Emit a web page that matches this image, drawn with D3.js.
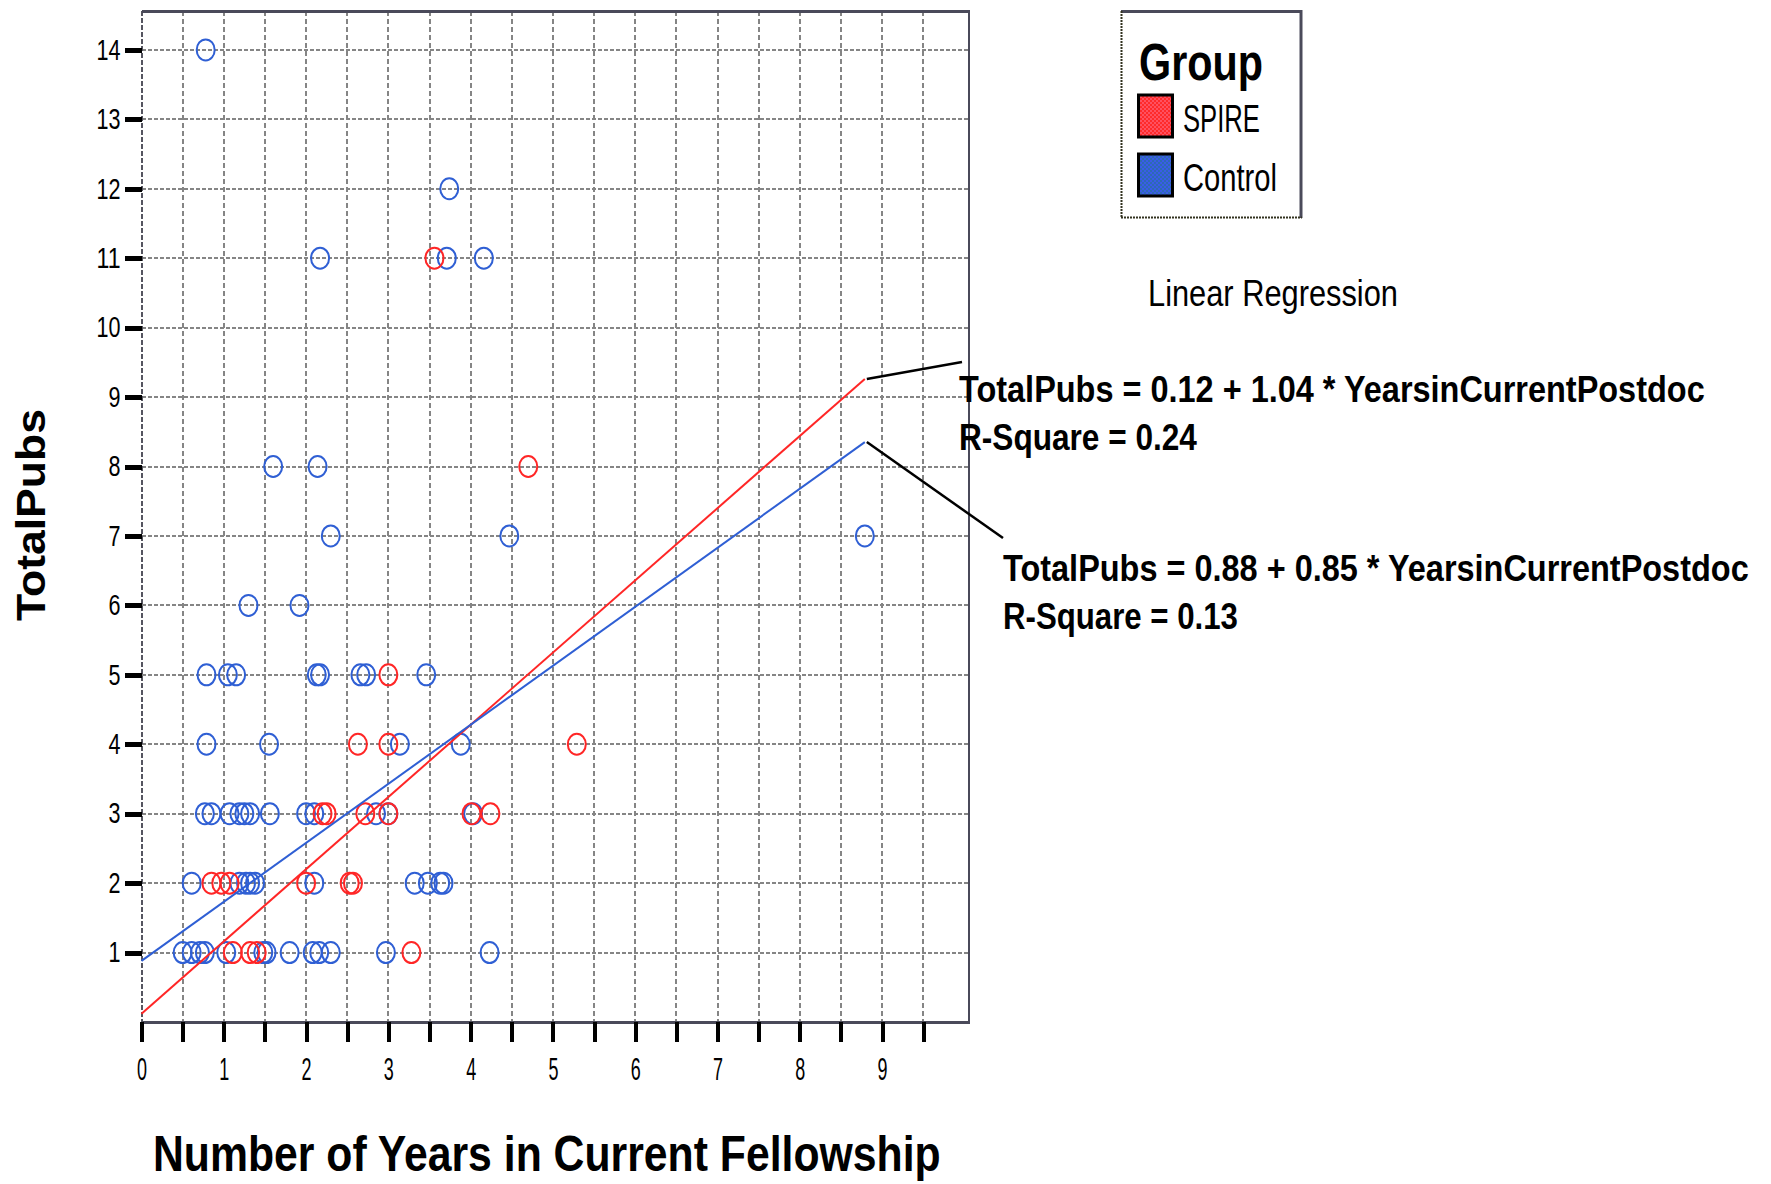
<!DOCTYPE html>
<html>
<head>
<meta charset="utf-8">
<script src="https://cdn.jsdelivr.net/npm/d3@7"></script>
<style>
  body { margin: 0; background: #fff; }
  svg { display: block; }
  text { font-family: "Liberation Sans", Arial, sans-serif; fill: #000; }
</style>
</head>
<body>
<svg width="1771" height="1184"></svg>
<script>
// values
var groups = ["SPIRE", "Control"];

var spireYears = [3.56, 4.70, 3.00, 2.63, 3.00, 5.29, 2.20, 2.25, 2.72, 3.00, 4.01, 4.24,
  0.85, 0.97, 1.07, 2.00, 2.53, 2.57, 1.11, 1.32, 1.40, 3.28];
var spirePubs = [11, 8, 5, 4, 4, 4, 3, 3, 3, 3, 3, 3,
  2, 2, 2, 2, 2, 2, 1, 1, 1, 1];

var controlYears = [0.78, 3.74, 2.17, 3.71, 4.16, 1.60, 2.14, 2.30, 4.47, 8.79,
  1.30, 1.92, 0.79, 1.05, 1.15, 2.13, 2.17, 2.66, 2.73, 3.46,
  0.79, 1.55, 3.14, 3.88,
  0.77, 0.85, 1.07, 1.19, 1.25, 1.32, 1.56, 2.00, 2.10, 2.85, 3.00, 4.03,
  0.61, 1.19, 1.27, 1.32, 1.38, 2.10, 3.32, 3.48, 3.63, 3.67,
  0.50, 0.61, 0.71, 0.77, 1.03, 1.48, 1.52, 1.80, 2.08, 2.16, 2.30, 2.97, 4.23];
var controlPubs = [14, 12, 11, 11, 11, 8, 8, 7, 7, 7,
  6, 6, 5, 5, 5, 5, 5, 5, 5, 5,
  4, 4, 4, 4,
  3, 3, 3, 3, 3, 3, 3, 3, 3, 3, 3, 3,
  2, 2, 2, 2, 2, 2, 2, 2, 2, 2,
  1, 1, 1, 1, 1, 1, 1, 1, 1, 1, 1, 1, 1];

var fitIntercept = [0.12, 0.88];
var fitSlope = [1.04, 0.85];
var fitRSquare = [0.24, 0.13];

var xTickLabels = [0, 1, 2, 3, 4, 5, 6, 7, 8, 9];
var yTickLabels = [1, 2, 3, 4, 5, 6, 7, 8, 9, 10, 11, 12, 13, 14];

var colors = ["#ff2626", "#2f5fd4"];

var svg = d3.select("svg");

var x = d3.scaleLinear().domain([0, 10.05]).range([141.5, 968.5]);
var y = d3.scaleLinear().domain([0, 14.56]).range([1022, 11]);

var halfSteps = d3.range(0, 9.51, 0.5);

// the source font is very narrow, so squeeze text to the width it had
function squeezed(parent, str, px, py, width, size, bold, extra) {
  var t = parent.append("text").attr("font-size", size)
    .attr("font-weight", bold ? "bold" : "normal").text(str);
  if (extra) t.attr("text-anchor", "middle");
  var w = t.node().getComputedTextLength();
  t.attr("transform", "translate(" + px + "," + py + ")" + (extra || "") +
    " scale(" + (width / w) + ",1)");
  return t;
}

// checker patterns for legend swatches
var defs = svg.append("defs");
[["pat0", "#ff2a2a", "#ff5060"], ["pat1", "#3a5ce8", "#2d6ab4"]].forEach(function (p) {
  var pat = defs.append("pattern").attr("id", p[0])
    .attr("width", 4).attr("height", 4).attr("patternUnits", "userSpaceOnUse");
  pat.append("rect").attr("width", 4).attr("height", 4).attr("fill", p[1]);
  pat.append("rect").attr("width", 2).attr("height", 2).attr("fill", p[2]);
  pat.append("rect").attr("x", 2).attr("y", 2).attr("width", 2).attr("height", 2).attr("fill", p[2]);
});

// grid
var grid = svg.append("g").attr("shape-rendering", "crispEdges");
grid.selectAll(".vg").data(halfSteps.slice(1)).enter().append("line")
  .attr("x1", d => x(d)).attr("x2", d => x(d))
  .attr("y1", y.range()[1]).attr("y2", y.range()[0])
  .attr("stroke", "#858585").attr("stroke-width", 2).attr("stroke-dasharray", "5,3");
grid.selectAll(".hg").data(yTickLabels).enter().append("line")
  .attr("x1", x.range()[0]).attr("x2", x.range()[1])
  .attr("y1", d => y(d)).attr("y2", d => y(d))
  .attr("stroke", "#858585").attr("stroke-width", 2).attr("stroke-dasharray", "4,2");

// frame
grid.append("line").attr("x1", x.range()[0]).attr("x2", x.range()[0])
  .attr("y1", y.range()[1]).attr("y2", y.range()[0])
  .attr("stroke", "#555560").attr("stroke-width", 2).attr("stroke-dasharray", "5,2");
grid.append("line").attr("x1", x.range()[0]).attr("x2", x.range()[1] + 1)
  .attr("y1", y.range()[1]).attr("y2", y.range()[1])
  .attr("stroke", "#4a4a5a").attr("stroke-width", 3);
grid.append("line").attr("x1", x.range()[1]).attr("x2", x.range()[1])
  .attr("y1", y.range()[1]).attr("y2", y.range()[0])
  .attr("stroke", "#4a4a5a").attr("stroke-width", 2);
grid.append("line").attr("x1", x.range()[0]).attr("x2", x.range()[1] + 1)
  .attr("y1", y.range()[0]).attr("y2", y.range()[0])
  .attr("stroke", "#4a4a5a").attr("stroke-width", 3);

// axes
var xAxis = svg.append("g").attr("transform", "translate(0," + y(0) + ")")
  .call(d3.axisBottom(x).tickValues(halfSteps).tickSize(20).tickPadding(15)
    .tickFormat(d => xTickLabels.indexOf(d) >= 0 ? d : ""));
xAxis.select(".domain").remove();
xAxis.selectAll(".tick line").attr("stroke", "#000").attr("stroke-width", 4)
  .attr("shape-rendering", "crispEdges");
xAxis.selectAll(".tick text").attr("font-size", 32).attr("font-family", "Liberation Sans, Arial")
  .attr("fill", "#000")
  .filter(d => xTickLabels.indexOf(d) >= 0)
  .attr("textLength", 10).attr("lengthAdjust", "spacingAndGlyphs");

var yAxis = svg.append("g").attr("transform", "translate(" + x(0) + ",0)")
  .call(d3.axisLeft(y).tickValues(yTickLabels).tickSize(17).tickPadding(4));
yAxis.select(".domain").remove();
yAxis.selectAll(".tick line").attr("stroke", "#000").attr("stroke-width", 5)
  .attr("shape-rendering", "crispEdges");
yAxis.selectAll(".tick text").attr("font-size", 29).attr("font-family", "Liberation Sans, Arial")
  .attr("fill", "#000")
  .attr("textLength", d => String(d).length * 12).attr("lengthAdjust", "spacingAndGlyphs");

// points
var series = [
  { years: spireYears, pubs: spirePubs },
  { years: controlYears, pubs: controlPubs }
];
[1, 0].forEach(function (g) {
  var pts = d3.zip(series[g].years, series[g].pubs);
  svg.append("g").selectAll("ellipse").data(pts).enter().append("ellipse")
    .attr("cx", d => x(d[0])).attr("cy", d => y(d[1]))
    .attr("rx", 9).attr("ry", 10.5)
    .attr("fill", "none").attr("stroke", colors[g]).attr("stroke-width", 2);
});

// fit lines
var xMax = d3.max(spireYears.concat(controlYears));
var line = d3.line().x(d => x(d[0])).y(d => y(d[1]));
groups.forEach(function (name, g) {
  var pts = [0, xMax].map(v => [v, fitIntercept[g] + fitSlope[g] * v]);
  svg.append("path").attr("d", line(pts))
    .attr("fill", "none").attr("stroke", colors[g]).attr("stroke-width", 2);
});

// regression labels with leader lines
var labelPos = [[959, 402, 962, 362], [1003, 581, 1003, 538]];
var eqLength = [746, 746], rsqLength = [238, 235];
groups.forEach(function (name, g) {
  var endY = fitIntercept[g] + fitSlope[g] * xMax;
  svg.append("line")
    .attr("x1", x(xMax) + 2).attr("y1", y(endY))
    .attr("x2", labelPos[g][2]).attr("y2", labelPos[g][3])
    .attr("stroke", "#000").attr("stroke-width", 2.5);
  squeezed(svg, "TotalPubs = " + fitIntercept[g].toFixed(2) + " + " + fitSlope[g].toFixed(2) +
    " * YearsinCurrentPostdoc", labelPos[g][0], labelPos[g][1], eqLength[g], 37, true);
  squeezed(svg, "R-Square = " + fitRSquare[g].toFixed(2),
    labelPos[g][0], labelPos[g][1] + 48, rsqLength[g], 37, true);
});

squeezed(svg, "Linear Regression", 1148, 306, 250, 37, false);

// legend
var legend = svg.append("g");
legend.append("line").attr("x1", 1121).attr("x2", 1302).attr("y1", 11.5).attr("y2", 11.5)
  .attr("stroke", "#4a4a5a").attr("stroke-width", 3);
legend.append("line").attr("x1", 1301).attr("x2", 1301).attr("y1", 10).attr("y2", 218)
  .attr("stroke", "#4a4a5a").attr("stroke-width", 3);
legend.append("line").attr("x1", 1121.5).attr("x2", 1121.5).attr("y1", 11).attr("y2", 218)
  .attr("stroke", "#333320").attr("stroke-width", 2).attr("stroke-dasharray", "2,1");
legend.append("line").attr("x1", 1121).attr("x2", 1302).attr("y1", 217.5).attr("y2", 217.5)
  .attr("stroke", "#333320").attr("stroke-width", 2).attr("stroke-dasharray", "2,1");
squeezed(legend, "Group", 1139, 80, 124, 52, true);
var legendY = [95, 154], legendLen = [77, 94];
groups.forEach(function (name, g) {
  legend.append("rect").attr("x", 1138.5).attr("y", legendY[g])
    .attr("width", 34).attr("height", 42)
    .attr("fill", "url(#pat" + g + ")").attr("stroke", "#000").attr("stroke-width", 3);
  squeezed(legend, name, 1183, legendY[g] + 37, legendLen[g], 38, false);
});

// axis titles
squeezed(svg, "Number of Years in Current Fellowship", 153, 1171, 788, 50, true);
squeezed(svg, "TotalPubs", 45, 515, 212, 41, true, " rotate(-90)");
</script>
</body>
</html>
